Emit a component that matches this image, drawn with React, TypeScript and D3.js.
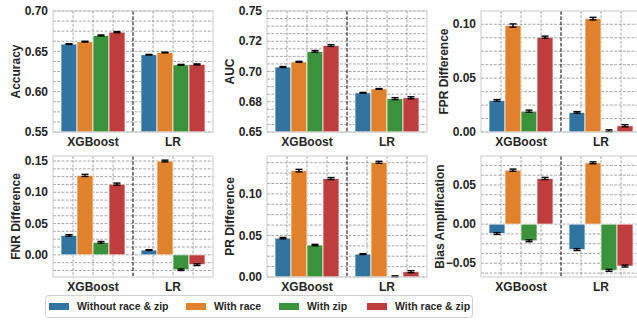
import React from "react";
import * as d3 from "d3";

const categories = ["XGBoost", "LR"];
const seriesNames = ["Without race & zip", "With race", "With zip", "With race & zip"];
const seriesColors = ["#3274a1", "#e1812c", "#3a923a", "#c03d3e"];

// values[category][series]
const accuracyValues = [[0.659, 0.662, 0.6697, 0.6738], [0.6458, 0.6485, 0.6333, 0.6338]];
const accuracyErr = [[0.0004, 0.0005, 0.0006, 0.0007], [0.0004, 0.0004, 0.0005, 0.0006]];
const aucValues = [[0.7037, 0.708, 0.7166, 0.7215], [0.6824, 0.6856, 0.6776, 0.6783]];
const aucErr = [[0.0004, 0.0004, 0.0007, 0.0007], [0.0003, 0.0003, 0.0008, 0.0008]];
const fprValues = [[0.0293, 0.0988, 0.0193, 0.088], [0.0182, 0.1052, 0.0012, 0.0058]];
const fprErr = [[0.0008, 0.0015, 0.001, 0.001], [0.0007, 0.0012, 0.0008, 0.001]];
const fnrValues = [[0.0311, 0.127, 0.02, 0.113], [0.0077, 0.15, -0.0238, -0.0157]];
const fnrErr = [[0.0012, 0.0017, 0.0014, 0.0017], [0.0006, 0.0014, 0.0012, 0.0014]];
const prValues = [[0.0468, 0.128, 0.0385, 0.1185], [0.0276, 0.138, 0.0008, 0.0064]];
const prErr = [[0.0008, 0.0015, 0.0008, 0.0012], [0.0005, 0.0012, 0.0006, 0.0012]];
const biasValues = [[-0.012, 0.0689, -0.0213, 0.0583], [-0.0325, 0.0783, -0.059, -0.0535]];
const biasErr = [[0.0012, 0.0014, 0.0012, 0.0014], [0.0012, 0.0012, 0.0012, 0.0012]];

const accuracyTicks = [0.55, 0.6, 0.65, 0.7];
const aucTicks = [0.65, 0.675, 0.7, 0.725, 0.75];
const fprTicks = [0, 0.05, 0.1];
const fnrTicks = [0, 0.05, 0.1, 0.15];
const prTicks = [0, 0.05, 0.1];
const biasTicks = [-0.05, 0, 0.05];

const panels = [
  { label: "Accuracy", values: accuracyValues, err: accuracyErr, domain: [0.55, 0.7], ticks: accuracyTicks, row: 0, col: 0 },
  { label: "AUC", values: aucValues, err: aucErr, domain: [0.65, 0.75], ticks: aucTicks, row: 0, col: 1 },
  { label: "FPR Difference", values: fprValues, err: fprErr, domain: [0, 0.1123], ticks: fprTicks, row: 0, col: 2 },
  { label: "FNR Difference", values: fnrValues, err: fnrErr, domain: [-0.0354, 0.158], ticks: fnrTicks, row: 1, col: 0 },
  { label: "PR Difference", values: prValues, err: prErr, domain: [0, 0.1456], ticks: prTicks, row: 1, col: 1 },
  { label: "Bias Amplification", values: biasValues, err: biasErr, domain: [-0.0675, 0.087], ticks: biasTicks, row: 1, col: 2 },
];

const W = 637;
const H = 320;
const colLefts = [53, 267, 481];
const rowTops = [11, 156];
const PW = 160;
const PH = 121;
const FONT = "'Liberation Sans', Arial, Helvetica, sans-serif";
const TXT = "#262626";
const GRID = "#8f8f8f";

function textWidth(s: string, size: number) {
  let w = 0;
  for (const ch of s) {
    if (ch === ".") w += 0.278;
    else if (ch === "-" || ch === "\u2212") w += 0.333;
    else w += 0.556;
  }
  return w * size;
}

function Panel({ p }: { p: any }) {
  const left = colLefts[p.col];
  const top = rowTops[p.row];
  const right = left + PW;
  const bottom = top + PH;
  const y = d3.scaleLinear().domain(p.domain).range([bottom, top]);
  const xLin = d3.scaleLinear().domain([-0.5, 1.5]).range([left, right]);
  const xBand = d3.scaleBand<string>().domain(categories).range([left, right]).paddingInner(0.2).paddingOuter(0.1);
  const hue = d3.scaleBand<string>().domain(seriesNames).range([0, xBand.bandwidth()]);
  const step = p.ticks[1] - p.ticks[0];
  const minor = step / 4;
  const gridY: number[] = [];
  const start = Math.ceil((p.domain[0] - 1e-9) / minor);
  for (let k = start; k * minor <= p.domain[1] + 1e-9; k++) gridY.push(k * minor);
  const gridX = d3.range(-0.25, 1.5, 0.25).filter((v) => Math.abs(v - 0.5) > 1e-6);
  const fmt = d3.format(".2f");
  const labels = p.ticks.map((t: number) => fmt(t));
  const maxW = Math.max(...labels.map((l: string) => textWidth(l, 12)));
  const ylabX = left - 5 - maxW - 3 - 6;
  return (
    <g>
      <rect x={left} y={top} width={PW} height={PH} fill="#fff" />
      {gridY.map((g, i) => (
        <line key={"gy" + i} x1={left} x2={right} y1={y(g)} y2={y(g)} stroke={GRID} strokeWidth={0.8} strokeDasharray="2.8,1.5" />
      ))}
      {gridX.map((g, i) => (
        <line key={"gx" + i} x1={xLin(g)} x2={xLin(g)} y1={top} y2={bottom} stroke={GRID} strokeWidth={0.8} strokeDasharray="2.8,1.5" />
      ))}
      <line x1={xLin(0.5)} x2={xLin(0.5)} y1={top} y2={bottom} stroke="#000" strokeWidth={1} strokeDasharray="3.7,1.6" />
      {categories.map((c, ci) =>
        seriesNames.map((s, si) => {
          const v = p.values[ci][si];
          const bx = (xBand(c) as number) + (hue(s) as number);
          const bw = hue.bandwidth();
          const yv = y(v);
          const yb = y(0) < top ? top : y(0) > bottom ? bottom : y(0);
          return (
            <rect key={c + s} x={bx} y={Math.min(yv, yb)} width={bw} height={Math.abs(yb - yv)} fill={seriesColors[si]} stroke="#fff" strokeOpacity={0.8} strokeWidth={0.9} />
          );
        })
      )}
      {categories.map((c, ci) =>
        seriesNames.map((s, si) => {
          const v = p.values[ci][si];
          const e = p.err[ci][si];
          const cx = (xBand(c) as number) + (hue(s) as number) + hue.bandwidth() / 2;
          const y1 = y(v + e);
          const y2 = y(v - e);
          return (
            <g key={"e" + c + s} stroke="#000" strokeWidth={1.4}>
              <line x1={cx} x2={cx} y1={y1} y2={y2} />
              <line x1={cx - 3.5} x2={cx + 3.5} y1={y1} y2={y1} />
              <line x1={cx - 3.5} x2={cx + 3.5} y1={y2} y2={y2} />
            </g>
          );
        })
      )}
      <rect x={left} y={top} width={PW} height={PH} fill="none" stroke="#cccccc" strokeWidth={1} />
      {p.ticks.map((t: number, i: number) => (
        <text key={"t" + i} x={left - 5} y={y(t)} dy="0.35em" textAnchor="end" fontSize={12} fontWeight="bold" fill={TXT} fontFamily={FONT}>
          {labels[i]}
        </text>
      ))}
      {categories.map((c) => (
        <text key={"xl" + c} x={(xBand(c) as number) + xBand.bandwidth() / 2} y={bottom + 13.8} textAnchor="middle" fontSize={12} fontWeight="bold" fill={TXT} fontFamily={FONT}>
          {c}
        </text>
      ))}
      <text transform={`translate(${ylabX},${(top + bottom) / 2}) rotate(-90)`} dy="0.35em" textAnchor="middle" fontSize={12} fontWeight="bold" fill={TXT} fontFamily={FONT}>
        {p.label}
      </text>
    </g>
  );
}

export default function App() {
  const legendX = [49, 186, 279, 367];
  return (
    <svg width={W} height={H} style={{ position: "absolute", left: 0, top: 0, background: "#fff" }}>
      <rect x={0} y={0} width={W} height={H} fill="#fff" />
      {panels.map((p, i) => (
        <Panel key={i} p={p} />
      ))}
      <rect x={45.5} y={295.5} width={427} height={22} rx={3} fill="#fff" stroke="#d0d0d0" strokeWidth={1} />
      {seriesNames.map((s, i) => (
        <g key={s}>
          <rect x={legendX[i]} y={303} width={20} height={7} fill={seriesColors[i]} />
          <text x={legendX[i] + 28} y={306.5} dy="0.35em" fontSize={10.5} fontWeight="bold" fill={TXT} fontFamily={FONT}>
            {s}
          </text>
        </g>
      ))}
    </svg>
  );
}
